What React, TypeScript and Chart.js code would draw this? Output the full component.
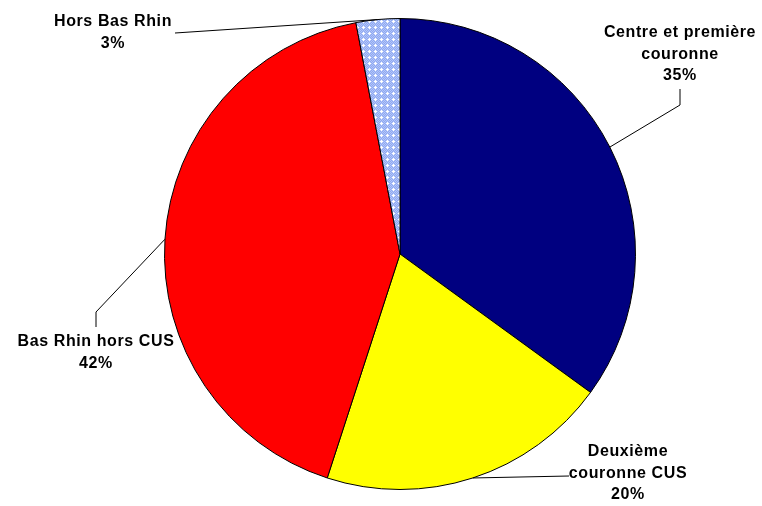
import React, { useEffect, useRef } from "react";
import { Chart, registerables } from "chart.js";
Chart.register(...registerables);

const categories = ["Centre et première couronne", "Deuxième couronne CUS", "Bas Rhin hors CUS", "Hors Bas Rhin"];
const values = [35, 20, 42, 3];
const labelLines = [["Centre et première", "couronne", "35%"], ["Deuxième", "couronne CUS", "20%"], ["Bas Rhin hors CUS", "42%"], ["Hors Bas Rhin", "3%"]];
const colors = ["#000080", "#ffff00", "#ff0000", "pattern"];
// label text centre (x, first line y) and leader elbow/end point
const labelPos = [
  { x: 680, y: 33, elbow: [680, 105], end: [680, 89] },
  { x: 628, y: 452, elbow: [569, 476], end: [569, 476] },
  { x: 96, y: 342, elbow: [96, 312], end: [96, 327] },
  { x: 113, y: 22, elbow: [175, 33], end: [175, 33] },
];

function makePattern(): CanvasPattern | string {
  const c = document.createElement("canvas");
  c.width = 6; c.height = 6;
  const g = c.getContext("2d");
  if (!g) return "#9db4f5";
  g.fillStyle = "#8ea8f2";
  g.fillRect(0, 0, 6, 6);
  g.fillStyle = "#b4c6f8";
  for (let y = 0; y < 6; y++) for (let x = 0; x < 6; x++) if ((x + y) % 2 === 0) g.fillRect(x, y, 1, 1);
  g.fillStyle = "#ffffff";
  g.fillRect(3, 3, 1, 1);
  g.fillRect(2, 3, 1, 1);
  g.fillRect(4, 3, 1, 1);
  g.fillRect(3, 2, 1, 1);
  g.fillRect(3, 4, 1, 1);
  const p = g.createPattern(c, "repeat");
  return p || "#9db4f5";
}

const labelPlugin = {
  id: "labels",
  afterDraw(chart: any) {
    const ctx = chart.ctx;
    const meta = chart.getDatasetMeta(0);
    ctx.save();
    ctx.strokeStyle = "#000";
    ctx.lineWidth = 1;
    meta.data.forEach((arc: any, i: number) => {
      const mid = (arc.startAngle + arc.endAngle) / 2;
      const sx = arc.x + Math.cos(mid) * arc.outerRadius;
      const sy = arc.y + Math.sin(mid) * arc.outerRadius;
      const lp = labelPos[i];
      ctx.beginPath();
      ctx.moveTo(sx, sy);
      ctx.lineTo(lp.elbow[0], lp.elbow[1]);
      ctx.lineTo(lp.end[0], lp.end[1]);
      ctx.stroke();
      ctx.fillStyle = "#000";
      ctx.font = "bold 16px 'Liberation Sans', Arial, sans-serif";
      (ctx as any).letterSpacing = "0.6px";
      ctx.textAlign = "center";
      ctx.textBaseline = "middle";
      labelLines[i].forEach((t, k) => {
        ctx.fillText(t, lp.x, lp.y + k * 21.5);
      });
    });
    ctx.restore();
  },
};

export default function App() {
  const ref = useRef<HTMLCanvasElement>(null);
  useEffect(() => {
    document.body.style.margin = "0";
    if (!ref.current) return;
    const bg = colors.map((c) => (c === "pattern" ? makePattern() : c));
    const chart = new Chart(ref.current, {
      type: "pie",
      data: {
        labels: categories,
        datasets: [{ data: values, backgroundColor: bg as any, borderColor: "#000", borderWidth: 1 }],
      },
      options: {
        animation: false,
        responsive: false,
        layout: { padding: { left: 164, right: 126, top: 18, bottom: 16 } },
        plugins: { legend: { display: false }, tooltip: { enabled: false } },
      },
      plugins: [labelPlugin],
    });
    return () => chart.destroy();
  }, []);
  return (
    <div style={{ position: "absolute", left: 0, top: 0, width: 762, height: 506, background: "#fff" }}>
      <canvas ref={ref} width={762} height={506} style={{ width: 762, height: 506 }} />
    </div>
  );
}
